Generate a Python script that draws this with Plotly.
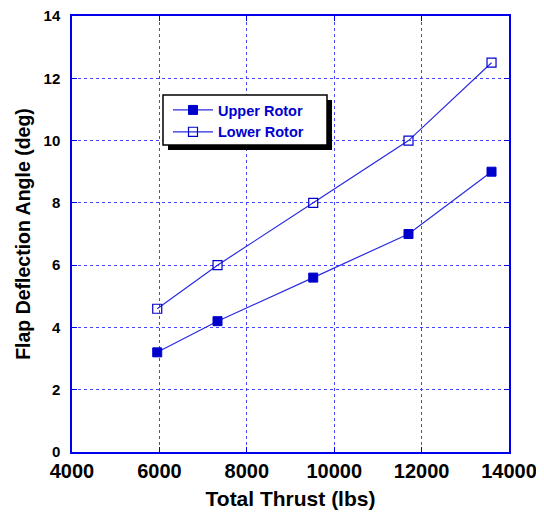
import plotly.graph_objects as go

thrust = [5950, 7330, 9520, 11700, 13600]
upper_rotor = [3.2, 4.2, 5.6, 7.0, 9.0]
lower_rotor = [4.6, 6.0, 8.0, 10.0, 12.5]

x_ticks = [4000, 6000, 8000, 10000, 12000, 14000]
y_ticks = [0, 2, 4, 6, 8, 10, 12, 14]

BLUE = "#0000CC"
LINE = "#2A2AE0"
GRID = "#4444FF"

fig = go.Figure()
fig.add_trace(go.Scatter(
    x=thrust, y=upper_rotor, name="Upper Rotor", mode="lines+markers",
    line=dict(color=LINE, width=1.2),
    marker=dict(symbol="square", size=9, color=BLUE, line=dict(color=BLUE, width=1)),
))
fig.add_trace(go.Scatter(
    x=thrust, y=lower_rotor, name="Lower Rotor", mode="lines+markers",
    line=dict(color=LINE, width=1.2),
    marker=dict(symbol="square-open", size=9, color=BLUE, line=dict(color=BLUE, width=1.2)),
))

# page body has an 8px margin, so the figure starts at screen (8, 8)
OFF = 8
W, H = 544 - OFF, 514 - OFF
L, R, T, B = 72 - OFF, 35, 16 - OFF, 62
pw, ph = W - L - R, H - T - B

def px_x(p):  # screen px -> paper
    return (p - OFF - L) / pw

def px_y(p):
    return (H - B - (p - OFF)) / ph

# legend frame with drop shadow (screen pixel positions of the frame)
bx0, by0, bx1, by1 = 163, 95, 327, 145
sh = 5
shapes = [
    dict(type="rect", xref="paper", yref="paper", layer="above",
         x0=px_x(bx0 + sh), x1=px_x(bx1 + sh), y0=px_y(by0 + sh), y1=px_y(by1 + sh),
         fillcolor="black", line=dict(width=0)),
    dict(type="rect", xref="paper", yref="paper", layer="above",
         x0=px_x(bx0), x1=px_x(bx1), y0=px_y(by0), y1=px_y(by1),
         fillcolor="white", line=dict(color="black", width=1.5)),
]

axis_common = dict(
    showline=True, linecolor="#0000EE", linewidth=1.5, mirror="ticks",
    showgrid=True, gridcolor=GRID, griddash="dot", gridwidth=1,
    ticks="inside", ticklen=5, tickcolor="#0000EE", tickwidth=1,
    zeroline=False, automargin=False, ticklabeloverflow="allow",
)

fig.update_layout(
    width=W, height=H,
    margin=dict(l=L, r=R, t=T, b=B),
    paper_bgcolor="white", plot_bgcolor="white",
    font=dict(family="Arial, Liberation Sans, sans-serif", color="black"),
    shapes=shapes,
    showlegend=True,
    legend=dict(
        x=px_x(168), y=px_y(94), xanchor="left", yanchor="top",
        bgcolor="rgba(0,0,0,0)", borderwidth=0,
        font=dict(size=14.5, color=BLUE, family="Arial, Liberation Sans, sans-serif", weight="bold"),
        tracegroupgap=0, itemwidth=40,
    ),
    xaxis=dict(
        range=[4000, 14000], tickvals=x_ticks, ticktext=[str(v) for v in x_ticks],
        tickfont=dict(size=20, weight="bold"),
        title=dict(text="<b>Total Thrust (lbs)</b>", font=dict(size=21), standoff=11),
        **axis_common,
    ),
    yaxis=dict(
        range=[0, 14], tickvals=y_ticks, ticktext=[str(v) for v in y_ticks],
        tickfont=dict(size=15, weight="bold"), ticklabelstandoff=7,
        title=dict(text="<b>Flap Deflection Angle (deg)</b>", font=dict(size=19.5), standoff=8),
        **axis_common,
    ),
)

fig.write_html("out.html")
